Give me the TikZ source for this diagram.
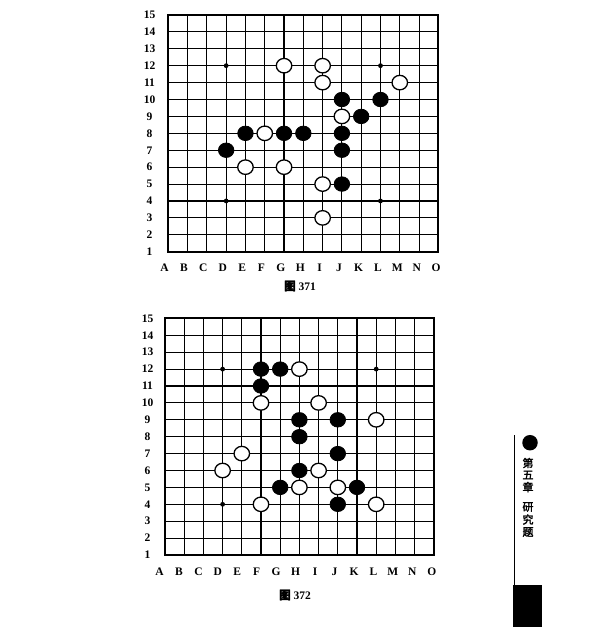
\documentclass[tikz,border=0pt]{standalone}
\usepackage{fontspec}
\setmainfont{Liberation Serif}
\newfontfamily\cjk[FakeBold=2.2]{Noto Sans CJK SC}
\usetikzlibrary{shapes.geometric}
\tikzset{
  gridline/.style={line width=1.1pt},
  frameline/.style={line width=2pt},
  bstone/.style={ellipse, fill=black, draw=black, line width=0.8pt, minimum width=15.5pt, minimum height=14.5pt, inner sep=0pt},
  wstone/.style={ellipse, fill=white, draw=black, line width=1.3pt, minimum width=15.5pt, minimum height=14.5pt, inner sep=0pt},
  starpt/.style={circle, fill=black, minimum size=4.8pt, inner sep=0pt},
  coordlabel/.style={font=\bfseries\fontsize{11.5}{12}\selectfont, inner sep=0pt},
  figcap/.style={font=\bfseries\fontsize{11.5}{12}\selectfont, inner sep=0pt},
  sidechar/.style={font=\cjk\fontsize{11}{12}\selectfont, inner sep=0pt},
}
\begin{document}
\begin{tikzpicture}[x=1pt,y=-1pt]
\fill[white] (0,0) rectangle (603,642);
\useasboundingbox (0,0) rectangle (603,642);

% ---------- Board 371 ----------
\begin{scope}[shift={(168.3,251.7)}, x=19.29pt, y=16.91pt, shift={(-1,-1)}]
  \foreach \i in {1,...,15} {
    \draw[gridline] (\i,1) -- (\i,15);
    \draw[gridline] (1,\i) -- (15,\i);
  }
  \draw[frameline] (1,1) rectangle (15,15);
  \foreach \c/\r in {4/12,12/12,4/4,12/4}
    \node[starpt] (p1s-\c-\r) at (\c,\r) {};
  \foreach \c/\r in {4/7,5/8,7/8,8/8,10/10,10/8,10/7,11/9,12/10,10/5}
    \node[bstone] (p1b-\c-\r) at (\c,\r) {};
  \foreach \c/\r in {7/12,9/12,9/11,13/11,10/9,6/8,5/6,7/6,9/5,9/3}
    \node[wstone] (p1w-\c-\r) at (\c,\r) {};
\end{scope}
\foreach \r in {1,...,15}
  \node[coordlabel] (p1row\r) at (149.5,{251.7-16.91*(\r-1)}) {\r};
\foreach \l [count=\i] in {A,B,C,D,E,F,G,H,I,J,K,L,M,N,O}
  \node[coordlabel] (p1col\l) at ({164.5+19.4*(\i-1)},267.3) {\l};
\node[figcap] (cap1) at (300,286) {{\cjk 图} 371};

% ---------- Board 372 ----------
\begin{scope}[shift={(165,555)}, x=19.2pt, y=16.9pt, shift={(-1,-1)}]
  \foreach \i in {1,...,15} {
    \draw[gridline] (\i,1) -- (\i,15);
    \draw[gridline] (1,\i) -- (15,\i);
  }
  \draw[frameline] (1,1) rectangle (15,15);
  \foreach \c/\r in {4/12,12/12,4/4}
    \node[starpt] (p2s-\c-\r) at (\c,\r) {};
  \foreach \c/\r in {6/12,7/12,6/11,8/9,10/9,8/8,10/7,8/6,7/5,11/5,10/4}
    \node[bstone] (p2b-\c-\r) at (\c,\r) {};
  \foreach \c/\r in {8/12,6/10,9/10,12/9,5/7,4/6,9/6,8/5,10/5,6/4,12/4}
    \node[wstone] (p2w-\c-\r) at (\c,\r) {};
\end{scope}
\foreach \r in {1,...,15}
  \node[coordlabel] (p2row\r) at (147.5,{555-16.9*(\r-1)}) {\r};
\foreach \l [count=\i] in {A,B,C,D,E,F,G,H,I,J,K,L,M,N,O}
  \node[coordlabel] (p2col\l) at ({159.5+19.45*(\i-1)},571.7) {\l};
\node[figcap] (cap2) at (295,595) {{\cjk 图} 372};

% ---------- Side tab ----------
\coordinate (tabtop) at (514.5,435);
\coordinate (tabbot) at (514.5,585);
\draw[line width=1pt] (tabtop) -- (tabbot);
\node[circle, fill=black, minimum size=15.5pt, inner sep=0pt] (tabdot) at (530,442.7) {};
\node[sidechar] (ch1) at (528,463) {第};
\node[sidechar] (ch2) at (528,475) {五};
\node[sidechar] (ch3) at (528,487) {章};
\node[sidechar] (ch4) at (528,507) {研};
\node[sidechar] (ch5) at (528,519.5) {究};
\node[sidechar] (ch6) at (528,532) {题};
\fill[black] (512.7,585) rectangle (541.7,626.7);
\end{tikzpicture}
\end{document}
